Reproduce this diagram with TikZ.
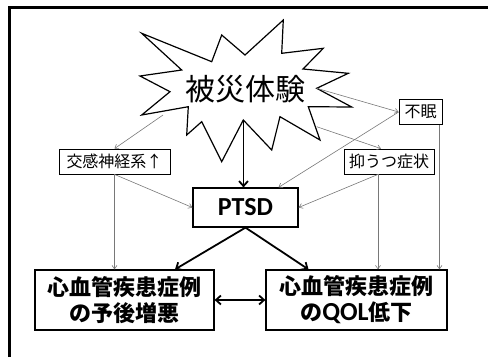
\documentclass[tikz,border=0pt]{standalone}
\usepackage{fontspec}
\setmainfont{Carlito}
\newfontfamily\jp{Noto Sans CJK JP}
\usetikzlibrary{arrows.meta}
\definecolor{thingray}{RGB}{120,120,120}
\begin{document}
\begin{tikzpicture}[x=1pt,y=-1pt,
  smallbox/.style={draw,line width=0.8pt,inner sep=0pt,minimum height=25pt,font=\jp\fontsize{16}{18}\selectfont},
  bigbox/.style={draw,line width=1.2pt,inner sep=0pt,minimum height=60pt,align=center,font=\jp\bfseries\fontsize{22}{26}\selectfont},
  thinarrow/.style={draw=thingray,line width=0.6pt,-{Straight Barb[length=3.5pt,width=5pt]}},
  thickarrow/.style={draw=black,line width=1.8pt,-{Straight Barb[length=5pt,width=9pt]}},
  starline/.style={draw=black,line width=1.2pt,fill=white,line join=miter}
]
\useasboundingbox (0,0) rectangle (488,357);
% frame
\draw[line width=3pt] (9,357) -- (9,7.8) -- (488,7.8);
% explosion
\draw[starline] (141.7,33.3) -- (211.7,61.7) -- (221.7,35) -- (245,55) -- (283.3,20)
  -- (281.7,53.3) -- (323.3,48.3) -- (303,69) -- (348.3,73.3) -- (316.7,88.3)
  -- (351.7,107) -- (308.3,106.7) -- (320,140) -- (280,116.7) -- (271.7,150)
  -- (243.3,120) -- (221.7,161.7) -- (201.7,121.7) -- (186.7,135) -- (188.3,106.7)
  -- (141.7,115) -- (170,91.7) -- (140,76) -- (181.7,70) -- cycle;
\node[font=\jp\fontsize{30}{31}\selectfont,inner sep=0pt] (taiken) at (245,89) {被災体験};
\coordinate (sL) at (163,115);
\coordinate (sR1) at (316.7,88.3);
\coordinate (sR2) at (316.7,126.7);
\coordinate (sB) at (243.5,120);
% boxes
\node[smallbox,minimum width=43pt] (fumin) at (420.5,112) {不眠};
\node[smallbox,minimum width=90pt] (yu) at (389,161.5) {抑うつ症状};
\node[smallbox,minimum width=111pt] (ko) at (114.5,161.5) {交感神経系↑};
\node[draw,line width=1.2pt,minimum width=105pt,minimum height=39pt,inner sep=0pt,
  font=\bfseries\fontsize{26}{28}\selectfont] (pt) at (245.5,207.5) {PTSD};
\node[bigbox,minimum width=179pt] (L) at (124.5,300) {心血管疾患症例\\の予後増悪};
\node[bigbox,minimum width=181pt] (R) at (356.5,300) {心血管疾患症例\\の{\rmfamily\bfseries\fontsize{26}{26}\selectfont QOL}低下};
% thin connectors
\draw[thinarrow] (sL) -- (ko.north);
\draw[thinarrow] (sR1) -- (fumin.west);
\draw[thinarrow] (sR2) -- ([xshift=-8pt]yu.north);
\draw[thinarrow] (fumin.west) -- ([xshift=33pt]pt.north);
\draw[thinarrow] ([xshift=-11pt]yu.south) -- (pt.east);
\draw[thinarrow] (ko.south) -- (pt.west);
\draw[thinarrow] (ko.south) -- (ko.south |- L.north);
\draw[thinarrow] ([xshift=-11pt]yu.south) -- ([xshift=-11pt]yu.south |- R.north);
\draw[thinarrow] ([xshift=19pt]fumin.south) -- ([xshift=19pt]fumin.south |- R.north);
% thick connectors
\draw[thickarrow] (sB) -- (sB |- pt.north);
\draw[thickarrow] (pt.south) -- ([xshift=50.5pt]L.north);
\draw[thickarrow] (pt.south) -- ([xshift=-48pt]R.north);
\draw[thickarrow,{Straight Barb[length=5pt,width=9pt]}-{Straight Barb[length=5pt,width=9pt]}] (L.east) -- (R.west);
\end{tikzpicture}
\end{document}
